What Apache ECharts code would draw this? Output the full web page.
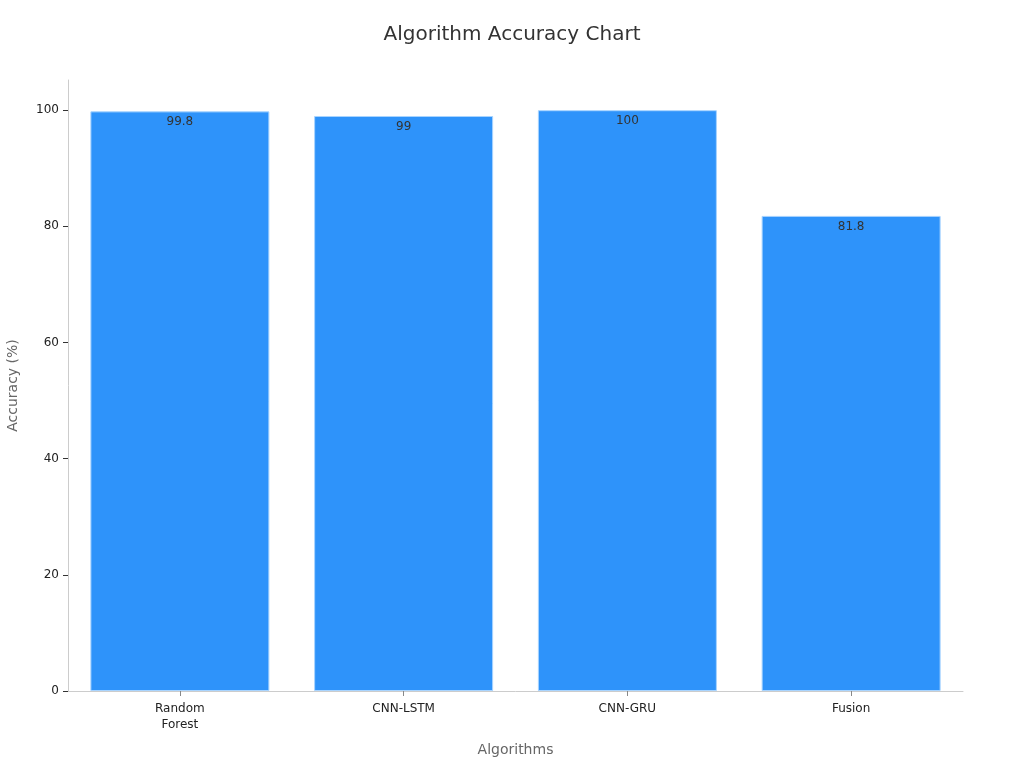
<!DOCTYPE html>
<html><head><meta charset="utf-8">
<script src="https://cdn.jsdelivr.net/npm/echarts@6/dist/echarts.min.js"></script>
<style>html,body{margin:0;padding:0;background:#fff}#c{width:1024px;height:768px}</style>
</head><body><div id="c"></div>
<script>
const categories = ['Random\nForest', 'CNN-LSTM', 'CNN-GRU', 'Fusion'];
const accuracy = [99.8, 99, 100, 81.8];
const yTicks = [0, 20, 40, 60, 80, 100];

const chart = echarts.init(document.getElementById('c'));
chart.setOption({
  animation: false,
  textStyle: { fontFamily: 'DejaVu Sans' },
  title: { text: 'Algorithm Accuracy Chart', left: 'center', top: 20,
    textStyle: { fontSize: 20, fontWeight: 'normal', color: '#333', fontFamily: 'DejaVu Sans' } },
  grid: { left: 68, right: 61, top: 80, bottom: 77, containLabel: false, outerBoundsMode: 'none' },
  xAxis: {
    type: 'category', data: categories,
    name: 'Algorithms', nameLocation: 'middle', nameGap: 52,
    nameTextStyle: { fontSize: 14, color: '#666' },
    axisLine: { lineStyle: { color: '#ccc' } },
    axisTick: { show: true, alignWithLabel: true, length: 5, lineStyle: { color: '#888' } },
    axisLabel: { color: '#222', fontSize: 12, margin: 10, lineHeight: 16 }
  },
  yAxis: {
    type: 'value', min: 0, max: 105.2, interval: 20,
    name: 'Accuracy (%)', nameLocation: 'middle', nameGap: 48,
    nameTextStyle: { fontSize: 14, color: '#666' },
    splitLine: { show: false },
    axisLine: { show: true, lineStyle: { color: '#ccc' } },
    axisTick: { show: true, length: 5, customValues: yTicks, lineStyle: { color: '#333' } },
    axisLabel: { color: '#222', fontSize: 12, margin: 9, customValues: yTicks }
  },
  series: [{
    type: 'bar', data: accuracy, barWidth: '80%',
    itemStyle: { color: '#2E93FA', borderColor: '#A8D4FF', borderWidth: 1 },
    label: { show: true, position: 'insideTop', color: '#333', fontSize: 12, distance: 5 }
  }]
});
</script></body></html>
